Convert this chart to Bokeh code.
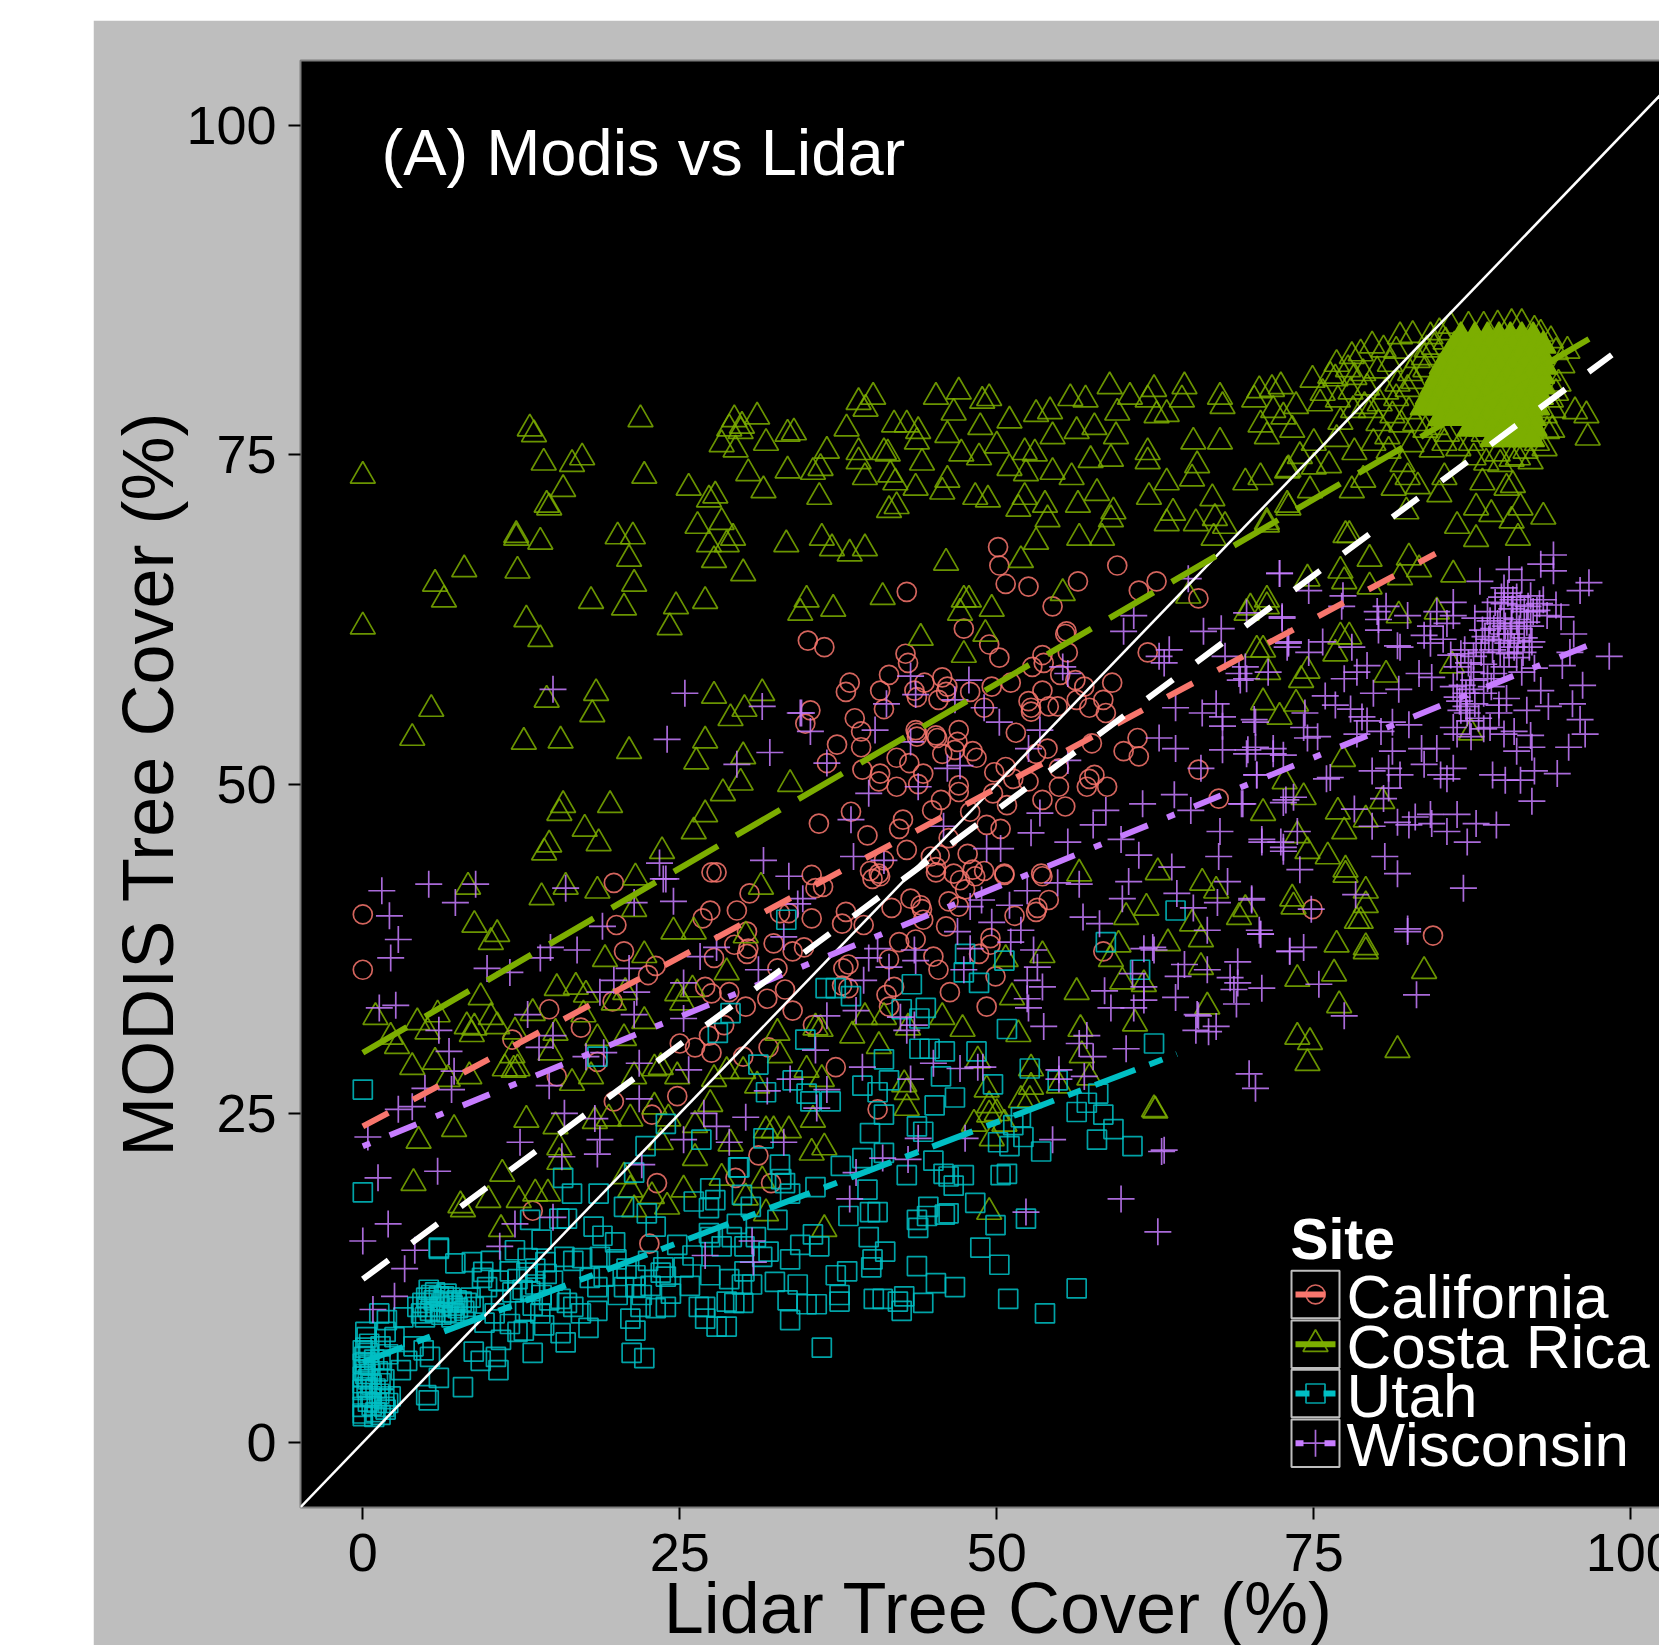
from bokeh.plotting import figure
from bokeh.embed import file_html
from bokeh.resources import INLINE
from bokeh.core.properties import value
from bokeh.models import FixedTicker

site_names = ["California", "Costa Rica", "Utah", "Wisconsin"]
site_colors = ["#F8766D", "#7CAE00", "#00BFC4", "#C77CFF"]
tick_values = [0, 25, 50, 75, 100]

california_points = [
(50.1,68),(50.2,66.6),(50.7,65.2),(52.5,65),(42.9,64.6),(59.5,66.6),(56.4,65.4),(62.6,65.4),(61.2,64.7),(65.9,64.1),
(54.4,63.5),(47.4,61.8),(55.5,61.6),(55.4,61.4),(49.4,60.6),(50.2,59.6),(55.6,60),(53.6,59.8),(61.9,60),(35.1,60.9),
(36.4,60.4),(42.8,59.9),(43,59.2),(41.5,58.3),(38.4,57.7),(38.1,57),(40.8,57.1),(44.3,57.7),(45.7,58.1),(46.1,57.4),
(46,57),(45.4,56.4),(43.5,57.1),(43.7,56.6),(47.9,57),(49.6,57.4),(51.1,57.7),(52.8,58.9),(53.7,59.2),(53.6,57.1),
(52.5,56.3),(52.7,55.8),(52.7,55.5),(54.1,55.9),(54.8,55.9),(55,58.3),(56.2,57.9),(56.9,57.4),(56.3,56.4),(57.3,55.8),
(58.4,56.4),(58.6,55.4),(59.1,57.7),(49,55.8),(41.1,55.7),(38.8,55),(35.3,55.6),(34.9,54.6),(39.3,54),(37.4,53),
(39.3,52.8),(36.6,51.6),(39.4,51.1),(40.8,50.8),(40.7,50.2),(42.1,49.8),(42.1,52),(43.1,51.6),(43.6,54.1),(43.7,53.9),
(43.7,53.6),(45.2,53.7),(45.3,53.5),(45.7,52.3),(47,54.1),(46.9,53.2),(46.7,52.6),(48.1,52.5),(48.4,52),(44.2,50.8),
(43.8,50),(51.5,53.9),(54,52.7),(57.5,53.1),(60,52.5),(61.1,53.5),(61.2,52.1),(50.7,51.3),(49.8,50.9),(51.3,50.4),
(52.5,50.2),(53.1,52.3),(54.9,51.2),(54.9,49.8),(53.6,48.8),(55.4,48.3),(57.3,50.4),(57.7,50.7),(57.1,49.8),(58.7,49.8),
(65.9,51.1),(67.5,48.9),(47,49.4),(47,49.9),(45.6,48.8),(44.9,48),(47.9,47.9),(49.7,49.3),(50.8,48.4),(49.2,46.9),
(50.3,46.6),(46.2,45.9),(47.7,44.7),(44.8,44.5),(45.5,44.6),(45.2,43.7),(48.1,43.5),(49,43.4),(50.6,43.2),(53.5,43.2),
(46.6,43.2),(38.5,47.9),(35.97,47),(39.8,46.1),(42.3,46.6),(42.6,47.3),(42.9,45),(35.4,43.1),(40,43.4),(40.7,43.2),
(41.1,44.2),(0,40.1),(0,35.9),(19.8,42.5),(20,39.3),(20.6,37.3),(23.1,36.2),(22.5,35.5),(19.7,33.5),(14.7,32.9),
(17.2,31.5),(11.8,30.6),(15.3,27.8),(18.5,28.9),(19.8,25.9),(22.8,24.9),(24.8,26.3),(13.4,17.6),(23.2,19.7),(22.6,15.1),
(29.4,20.1),(31.2,21.8),(32.2,19.7),(27.4,40.4),(26.8,39.8),(29.5,40.4),(30.5,41.7),(27.5,43.3),(27.9,43.3),(30.3,38.8),
(29.3,37.8),(30.4,37.5),(30.3,37.1),(27.7,36.8),(32.4,37.9),(32.9,40.2),(33.6,40.2),(33.9,37.3),(32.7,36),(27,34.6),
(27.5,34.1),(28.9,34.2),(30.2,33.1),(31.9,33.7),(33.3,34.4),(33.9,32.8),(28.5,31.7),(27.3,30.9),(25,30.3),(26.2,30),
(27.5,29.6),(32,30),(30,29.3),(36.3,42.2),(35.7,42.1),(40.2,42.8),(40.8,43),(45.2,43.3),(47.1,42.7),(47,40.7),
(46.2,41.1),(47.5,42),(48.3,43),(50.6,43.1),(53.6,43),(54.1,41.2),(53.2,40.6),(53.1,40.3),(51.4,40),(43.2,41.3),
(44,40.8),(44.1,40.5),(41.7,40.6),(38.1,40.3),(35.4,39.8),(37.8,39.4),(39.5,39.3),(44.2,39.7),(46,39.2),(43.6,38.2),
(42.3,38),(41.5,36.7),(38.3,36.3),(37.9,36),(45,36.9),(45.4,35.9),(48.6,37.1),(49.5,38.3),(49.5,37.8),(49.9,35.4),
(41.9,34.6),(41.3,34),(41.5,33.1),(46.3,34.2),(49.2,33.1),(38.3,34.5),(37.8,34.7),(35.5,31.7),(37.3,28.5),(40.6,25.3),
(58.4,37.3),(34.8,37.6),(74.9,40.5),(84.4,38.5),
]

costa_rica_points = [
(0,73.4),(0,61.96),(13.17,77),(13.5,76.56),(21.9,77.7),(14.27,74.4),(16.5,74.3),(17.3,74.8),(22.2,73.4),(15.8,72.4),
(14.5,71.2),(14.7,71),(12.1,68.9),(12.1,68.7),(14,68.4),(12.2,66.2),(8,66.3),(5.7,65.2),(6.4,64),(12.9,62.5),
(14,61),(18,63.9),(21.4,65.2),(20.6,63.4),(24.7,63.5),(27,63.9),(24.2,61.9),(21,67.1),(20.1,68.8),(21.3,68.8),
(25.7,72.5),(27.3,71.6),(27.8,71.9),(26.4,69.6),(28.3,69.9),(27.3,68.2),(28.7,68.2),(29.2,68.7),(27.7,67),(30,66),
(33.4,68.2),(28.3,75.8),(29.3,77.7),(28.9,77),(29.9,77.2),(29.8,76.8),(31.1,77.9),(31.8,75.9),(29.4,75.4),(30.4,73.6),
(31.6,72.3),(33.5,76.6),(33.5,73.8),(34,76.7),(5.4,55.7),(3.9,53.5),(18.4,56.9),(14.5,56.4),(18.1,55.3),(12.7,53.2),
(15.6,53.3),(21,52.5),(27.7,56.7),(31.5,56.9),(30.1,55.7),(29,55),(27,53.3),(26.3,51.7),(30,52.1),(29.8,50.1),
(28.4,49.3),(33.7,50),(34.5,63),(15.8,48.4),(15.5,47.8),(19.5,48.4),(17.5,46.6),(18.6,45.5),(14.7,45.4),(14.3,44.8),
(27,47.7),(26.1,46.4),(23.6,44.9),
(39.1,79),(40.25,79.4),(39.65,78.5),(45.2,79.4),(47,79.8),(48.85,79.1),(49.4,79.3),(46.6,78.2),(48.7,77.1),(51,77.6),
(53.1,78.1),(54.2,78.3),(55.8,79.3),(57,79.2),(58.9,80.2),(60.5,79.4),(62.4,80),(61.9,79.2),(59.5,78.2),(64.8,80.2),
(64.6,79.2),(63.4,78.1),(67.8,78.7),(67.6,79.4),(62.6,78),(38.15,77),(41.9,77.3),(42.9,77.3),(43.8,76.8),(46.1,76.5),
(43.7,76),(39.1,75.2),(39.1,74.5),(36.6,75.3),(36.1,74),(35.5,73.7),(36,71.8),(41.1,75.2),(41.4,75.1),(39.6,73.3),
(41.6,73.5),(42,72.9),(43.6,72.5),(44.1,74.4),(45.7,72.2),(46.1,73.1),(42.1,71.1),(41.5,70.8),(47.2,75.1),(48.6,74.8),
(51,74),(50,75.7),(52.2,75.2),(53,75.1),(54.4,76.4),(56.3,76.8),(57.7,77.1),(59.4,76.4),(57.4,74.6),(55.9,73.3),
(54.4,73.7),(52.3,73.6),(59,74.7),(61.9,74.5),(61.9,75.2),(65.4,73.2),(65.8,74.2),(67.6,76),(65.5,76),(63.4,72.9),
(62,71.8),(57.9,72.1),(52.2,71.8),(48.3,71.8),(49.3,71.6),(51.7,70.9),(53.8,71.2),(56.4,71.2),(54,70.1),(59.2,70.7),
(59,70.1),(63.9,70.6),(63.4,69.8),(67,71.7),(65.7,69.8),(67.2,70.2),(68,69.6),(67.1,68.7),(69.6,72.9),(70.8,73.3),
(72.9,73.8),(72.9,71.2),(71.3,69.9),(56.5,68.7),(58.3,68.7),(53.1,68.4),(51.9,67),(36.2,68.7),(37,67.9),(38.4,67.5),
(39.6,67.9),(46,66.8),(55.2,64.5),(41,64.2),(47.4,64),(47.8,64),(49.6,63.3),(47.1,63),(35,64),(37.1,63.3),
(49.1,61.4),(44,61.1),(47.4,59.8),(65.1,64.3),(69.7,63),(71.3,64),
(8.3,42.2),(14.1,41.4),(16,42.2),(18.5,41.9),(21.5,42.9),(21.4,40.5),(8.8,39.3),(10.6,38.6),(10.1,38),(19.1,36.7),
(22.2,37),(24.5,38.8),(26.1,38.8),(28.7,35.7),(31.4,42.2),(30.2,38.5),(1,32.3),(2.2,30.8),(2.7,30.1),(4.3,31.9),
(5.9,32.5),(5.1,31.2),(9.3,33.8),(3.9,28.5),(5.7,28.9),(6.7,27.6),(8.4,27.8),(8.6,31),(8.2,31.6),(8.8,31.5),
(10.1,32.3),(10.6,31.6),(12,31.2),(11.8,29.4),(11.9,28.3),(11.2,28.4),(12.2,28.4),(15.3,34.5),(16.8,34.6),(13.4,32.6),
(17.6,34),(15.2,31.1),(14.8,29.6),(16.5,27.3),(18,27.8),(18.5,30.7),(17.4,32.5),(19.8,33.4),(20.7,34.2),(20.6,30.7),
(21.4,27.8),(22.2,32),(23,28.4),(23.5,28.5),(24.8,27.8),(25.2,33.4),(24.8,34.1),(26,34.4),(27.7,27.6),(28.7,28.2),
(30,28.2),(32.7,31.1),(32.9,29.4),(31.1,27.1),(27.4,25.7),(23,25.5),(19.4,24.6),(18.3,24.4),(21.1,24.6),(24.1,24.6),
(26.2,24.1),(31.8,23.7),(32.4,23.7),(33.6,23.7),(7.2,23.8),(4.4,22.9),(12.9,24.5),(15.2,24),(15.5,22.4),(15.5,21.3),
(23.5,22.8),(26.2,21.6),(29,22.7),(11,20.4),(4,19.7),(20.6,20.2),(21.1,19.2),(25.3,19.2),(28.3,20.1),(31.5,19.9),
(7.7,18),(7.9,17.7),(9.9,18.4),(12.3,18.4),(13.6,18.9),(14.6,18.9),(10.9,16.2),(21.4,17.7),(22.8,18.7),(24,17.9),
(30.2,18.6),(31.8,17.4),
(56.5,43.2),(62.7,43.3),(66.2,42.5),(67.3,41.9),(61.8,40.6),(60.2,39.9),(69.1,39.9),(73.4,40.7),(65.4,39.4),(66.1,38.2),
(63.5,37.9),(59.6,37.8),(53.6,37),(50.7,36.7),(66.1,36.1),(59,36.7),(59.9,35),(61.6,34.8),(56.3,34.2),(51.2,33.8),
(66.6,33.1),(60.9,31.8),(56.6,31.4),(51.7,31),(47.3,31.4),(45.7,32.3),(73.7,30.8),(39.6,32.3),(41.1,32.3),(43,31.5),
(38.6,30.9),(40.7,30.1),(35.7,31.5),(56.7,29.4),(57.3,27.7),(48.5,29),(52.7,28.4),(52.7,27),(54.9,27.1),(49.2,26.8),
(42.7,27.2),(42.9,26.6),(42.9,25.4),(51.9,26),(52.6,26),(49.4,25.6),(49.4,24.9),(50,25),(48.2,24.2),(49.6,23.1),
(50.6,24.2),(62.5,25.2),(49.4,17.5),(36.4,16.2),(35.5,24.5),(36.4,22.4),(35.4,22),(35,28.3),(36.2,27.6),(36.1,31.4),
(81.8,84),(82.8,84.1),(84.2,84),(85.8,84.8),(91.4,85),(92.4,84.5),(80.5,83),(79.6,83.3),(78.7,82.7),(78,82.5),
(76.8,81.9),(76.3,81),(74.9,80.7),(75.5,78.9),(72.4,80.2),(71.7,80),(70.7,79.9),(70.3,79.2),(73.6,78.7),(73.3,76.9),
(71.3,76.4),(72.6,77.9),(71.8,78.4),(70.8,77.3),(77.1,77.5),(79.5,78.4),(80.8,76.4),(82.7,75.8),(77.9,79.8),(76.7,80.8),
(81.6,80.4),(82.6,81.2),(83.7,82.4),(84.3,75.4),(79.2,80.1),(76.8,76.2),(75,75.9),(73.9,74.9),(73,73.9),(75,74.1),
(76.2,74.2),(78.2,75.2),(79.7,75.9),(78.9,73.1),(78,72.3),(74.7,72.3),(73,71),(71.3,69.7),(77.5,68.9),(77.8,68.9),
(80.9,75.3),(82,74.3),(82.4,73.3),(81.3,72.5),(83.2,72.6),(84.9,72),(85.3,73.3),(82.3,70.7),(86.3,69.6),(87.8,68.6),
(91.1,68.7),(87.8,71),(89,70.5),(90.6,70),(91.3,71),(93.1,70.3),(88.3,72.9),(90.2,72.5),(90.7,72.7),(96.5,78),
(95.6,78.3),(96.6,76.3),(93.8,76.9),(94.1,79.7),(95,82.9),(87.4,75.9),(89.5,75.1),(91.1,74.8),(92.1,74.5),(93.2,75.5),
(88.4,76.6),(85.5,76.6),(74.5,65.6),(77.1,66.2),(77.4,65.4),(79.4,67.1),(79.4,65),(82.5,67.2),(83.3,66.3),(81.8,65.7),
(86,65.9),(70,63.4),(71.3,63.5),(77.8,61.2),(77.1,61.2),(81.7,62.8),(84.7,63.1),(70.5,60.2),(71,60.2),(76.7,59.9),
(74.5,58.6),(74,57.9),(71.4,58.5),(80.7,58.3),(85.9,59),(71,56.2),(72.3,55.1),(73.6,56.1),(87.4,53.9),(77.3,51.9),
(72.7,50.2),(74.2,49),(76.9,47.9),(80.4,48.7),(71,47.8),(79.1,47.3),(77.4,46.4),(73.7,46.1),(74.5,44.9),(76.1,44.5),
(77.5,43.5),(77.5,43.1),(79.1,41.9),(73.3,41.3),(78.4,39.6),(76.8,37.8),(79.1,37.3),(69.6,40.5),(83.7,35.8),(81.6,29.8),
(62.4,25.3),(74.5,28.8),(74.7,30.4),(79.1,37.6),(77,33.2),(73.7,35.2),(76.6,35.6),(78.7,39.6),(79.1,40.8),
(84.9,84.3),(85.4,83.6),(84.5,83.2),(83.9,83),(83.2,82.2),(83.8,81.5),(82.9,80.6),(82.4,80),(81.5,79.3),(80.7,79.8),
(80.2,78.9),(81.2,78),(80.1,77.4),(81.9,77.3),(82.5,78.3),(83,77.4),(83.8,76.9),(84.6,77.1),(85.3,75.9),(86.4,75.5),
(87.6,74.8),(88.6,74.4),(89.7,74.3),(90.6,74.7),(91.7,75.3),(92.6,75.9),(93.4,76.8),(93.9,78.4),(94.3,80.4),(94.6,81.8),
(94.1,82.8),(93.7,83.7),(92.9,84.2),(90.6,85),(89.5,84.9),(88.4,84.8),(87.2,84.8),(93.5,81.2),(93.7,79.2),(93.2,78),
(78.9,81.2),(78.2,80.9),(77.7,81.5),(80,81.4),(81,81.9),(81.5,82.9),(79,78.7),(78.1,78.4),(76.9,79.2),(75.7,79.7),
]

costa_rica_dense_points = [
(86.6,84),(87.7,84),(88.7,84),(89.6,84),(90.5,84),(91.4,84),(92.3,84),
(86.1,83.3),(87,83.3),(87.9,83.3),(88.9,83.3),(89.8,83.3),(90.7,83.3),(91.6,83.3),(92.5,83.3),(93.1,83.3),
(85.6,82.5),(86.5,82.5),(87.5,82.5),(88.4,82.5),(89.3,82.5),(90.2,82.5),(91.2,82.5),(92.1,82.5),(93,82.5),
(85.1,81.7),(86,81.7),(86.9,81.7),(87.9,81.7),(88.8,81.7),(89.7,81.7),(90.7,81.7),(91.6,81.7),(92.5,81.7),(93.2,81.7),
(84.8,81),(85.7,81),(86.6,81),(87.5,81),(88.4,81),(89.3,81),(90.3,81),(91.2,81),(92.1,81),(93,81),
(84.4,80.2),(85.3,80.2),(86.2,80.2),(87.1,80.2),(88,80.2),(88.9,80.2),(89.8,80.2),(90.7,80.2),(91.6,80.2),(92.5,80.2),(93,80.2),
(84,79.4),(84.9,79.4),(85.8,79.4),(86.7,79.4),(87.6,79.4),(88.6,79.4),(89.5,79.4),(90.4,79.4),(91.3,79.4),(92.2,79.4),(92.9,79.4),
(83.6,78.6),(84.5,78.6),(85.4,78.6),(86.3,78.6),(87.2,78.6),(88.2,78.6),(89.1,78.6),(90,78.6),(90.9,78.6),(91.8,78.6),(92.6,78.6),
(85,77.8),(85.9,77.8),(86.9,77.8),(87.8,77.8),(88.7,77.8),(89.6,77.8),(90.5,77.8),(91.4,77.8),(92.3,77.8),
(87.3,77),(88.2,77),(89.1,77),(90,77),(90.9,77),(91.8,77),(92.4,77),
(89.1,76.2),(90,76.2),(90.8,76.2),(91.6,76.2),(92.2,76.2),
]

utah_points = [
(62.4,30.3),(58.6,38),(64.1,40.4),(61.3,35.9),(50.6,36.6),(47.5,37.1),(47.4,35.7),(48.6,34.9),(43.3,34.8),(50.8,31.4),
(36.5,34.5),(37.3,34.5),(38.5,33.9),(42.5,32.9),(44.4,33),(43.9,32.2),(43.9,29.9),(44.7,29.9),(45.9,29.7),(48.4,29.7),
(41.1,29.1),(39.4,27.1),(40.6,26.6),(41.5,27.5),(45.6,27.8),(46.7,26.2),(45.1,25.6),(49.7,27.2),(52.6,28.4),(54.8,27.5),
(58,26.5),(57.1,25.8),(56.3,25.1),(58.4,24.9),(51.9,24.7),(51.3,24.1),(59.2,23.8),(57.9,23),(60.7,22.5),(52.1,23.2),
(50.1,22.8),(51,22.5),(53.5,22.1),(41.1,24.9),(36.9,25.9),(35.3,25.9),(35,26.5),(34.9,30.6),(40,23.5),(43.7,24),
(44.2,23.6),(41.1,22),(39.4,21.6),(37.7,21),(45,21.4),(42.9,20.3),(45.8,20.4),(46.2,20.2),(47.4,20.3),(46.6,19.5),
(50.3,20.3),(50.8,20.4),(39.8,19.2),(35.7,19.4),(48.3,18.2),(38.3,17.2),(40,17.5),(40.6,17.5),(43.7,16.9),(44.6,17.9),
(44.5,17.2),(43.8,16.3),(45.9,17.3),(46.2,17.4),(49.9,16.5),(52.3,17),(35.5,15.8),(36,14.9),(39.9,15.6),(41.2,14.5),
(40.2,13.9),(40.1,13.3),(37.3,12.7),(38.2,13),(43.7,13.4),(45.2,12.1),(46.7,11.8),(48.7,14.8),(50.2,13.5),(40.3,10.9),
(41,10.9),(37.6,11.2),(37.6,10.7),(35.8,10.5),(35,10.5),(42.7,11.1),(42.2,10.7),(42.5,10),(44.2,10.6),(50.9,10.9),
(56.3,11.7),(53.8,9.8),(36.2,7.2),
(0,19),(6,14.7),(7.3,13.6),(8.6,13.7),(5.2,11.6),(9.5,12.96),(9.4,12.5),(10.1,13.8),(12,14.6),(13.2,16.9),
(14.1,15.4),(15.8,20.1),(16.5,18.9),(18.6,18.9),(15.5,17),(16.1,17),(18.2,16.4),(18.9,15.7),(19.9,15.2),(20.6,17.9),
(23.1,16.4),(21.4,20.5),(22.4,17.4),(26.1,18.3),(27.4,19.3),(27.8,18.4),(27.3,17.8),(29.6,20.9),(29.9,18.8),(30.6,17.9),
(29.1,15.6),(27.4,15.6),(30.1,14.9),(28.3,14.9),(25.3,13.3),(23.7,13.3),(23.9,12.6),(27.4,12.7),(28.9,12.4),(30.1,13),
(25.8,11.9),(26.5,10.3),(27,9.4),(29.3,10.6),(28.7,8.8),(30,10.6),(23.9,10.3),(23.1,10.2),(21.9,10.3),(21.5,11.8),
(21.5,8.5),(21.2,6.8),(22.2,6.4),(24.3,11.3),(20.1,11.2),(18.5,10),(17.8,8.7),(14.3,8.9),(15.6,8.3),(16,7.6),
(13.4,6.8),(12.8,10),(12.2,8.4),(10.9,7.8),(10.5,6.5),(9.3,6.2),(10.7,5.5),(8.75,6.9),(7.9,4.2),(6,4.9),
(5,3.6),(5.2,3.2),(5.3,6.5),(3,5.5),(2.2,3.5),(1.7,2.7),(0.3,8),(0.5,7.5),(0.1,6.5),(0.1,5.5),
(0,4.5),(0,3.5),(0,2.2),(0.9,1.95),(1.1,3),(0.3,4.2),(1.4,7.3),(2.5,8),(3.2,9.5),(1.9,9.3),
(1.3,9.8),(4.3,10.3),(5.1,10.3),(6.1,10.3),(6.8,10.6),(7.4,10.8),(6.4,11.1),(5.6,10.8),(7.2,9.8),(8,10),
(8.75,10.3),(9.8,11.8),(10.7,12.3),(10.9,10.8),(12.7,8.5),(11.6,9),(14,9.8),(15,12.3),(14.5,12.8),(16.6,13.8),
(15.9,14.1),(18.7,14.1),(17.3,14),(18.5,11.8),(16.6,10.3),(16.1,10.6),(17.2,9.8),(15.6,10.9),(4.8,7),(4,7.3),
(3.5,6.2),(1.8,8.4),(0.2,8.4),(0,7),(0.6,5.2),(1.4,4.5),(1.7,3.3),(0.6,3.5),(0,2.7),(0,2),
(0,5),(0,4),(0,6),(21.1,9.4),(22.7,11.9),(23.5,12.9),
(0,26.8),(6,14.8),(23.9,24.2),(26.7,23),(22.3,22.5),(31.6,23.1),(29.7,20.9),(32.9,21.1),(28,31.1),(29,32.6),
(31.2,28.7),(31.8,26.6),(33.4,39.7),(33.9,27.5),(18.5,29.3),(33,20),(33.3,19.7),(33.7,18.9),(32.7,16.9),(29.5,16.6),
(27.3,15.9),(29.9,12),(28.7,10.7),(27.9,8.8),(33.7,9.3),(33.5,10.8),(30.7,12),(31.5,14.1),(33.7,13.9),(27,10.3),
(31,15.6),(32,14.5),(32.5,12.2),(34.3,12),(34.5,15),(26,14.2),(24.8,15),(22.5,13.8),(20.8,13.2),(20,13.9),
(19,12.6),(17.9,12.5),(13.2,11.5),(13.6,12),(12.6,11.6),(12.2,12.4),(11.6,13),(10.4,9.8),(9.6,9.1),(13,14),
(4.7,10.6),(5,11),(5.4,11.2),(5.7,11.4),(6,11.1),(6.3,10.7),(6.6,11.3),(6.9,11),(7.1,10.4),(7.5,10.2),
(7.8,10.7),(5.3,10),(5.7,9.9),(6.2,9.7),(6.6,9.9),(7,9.5),(4.6,9.8),(4.9,9.5),(8.2,10.6),(8.5,11),
(0.2,7.2),(0.4,6.8),(0.2,6.1),(0.5,5.9),(0.2,5.2),(0.4,4.8),(0.7,4.4),(1,4.1),(1.3,3.7),(0.4,3.1),
(0.7,2.8),(1,2.3),(1.4,2.1),(1.8,2.5),(2,3),(1.2,5.4),(1.7,4.8),(0.9,6.3),(1.4,6.3),(2,6.7),
(13.4,10.4),(14.1,11.2),(14.7,10.8),(11.8,11.4),(12.9,12.9),(13.6,13.2),(14.4,13.7),(20.6,11.8),(21.5,12.7),(22,11.2),
]

wisconsin_points = [
(72.3,66),(74.6,64.7),(72.5,62.6),(77.3,64.3),(80.1,62.5),(93.9,67.4),(92.9,66.7),(93.9,66.2),(96.7,65.3),(96,64.7),
(88.1,65.4),(90.4,66.3),(91.4,65.5),(90,64.9),(92.1,64.3),(91,64.2),(93.1,64),(94.1,63.6),(90,63.7),(90.6,63.3),
(91.6,63.1),(92.6,63.2),(93.4,62.8),(94.5,62.7),(88.7,63.1),(87.7,62.6),(86,63.8),(86,62.8),(84.7,63.1),(89.7,62.6),
(91,62.5),(92.1,62),(89.2,61.8),(88.3,61.7),(90.5,61.4),(91.6,61.1),(92.2,60.8),(90.3,60.7),(90.8,60.4),(88.8,61),
(87.8,60.7),(95.5,61.4),(95.2,60),(94.6,59),(98.3,59.7),(96.2,57.5),(95.4,56.1),(96,54.9),(96.4,53.8),(95.1,52.8),
(94.2,50.8),(92.2,48.7),(92.4,51),(91.3,50.3),(90.1,50.3),(89.1,50.7),(92.2,52.8),(91,52.5),(92.1,53.7),(90,53.8),
(90.8,54),(93.5,55.9),(92.9,57.1),(91.8,55.6),(90.2,56.5),(89.6,56),(89.6,55.4),(88.9,54.3),(88.4,54.2),(92.4,58.8),
(91.4,58.5),(90,58.9),(89.2,58.4),(87.6,57.9),(87.4,58.5),(86.6,59.9),(85.8,59.8),(86.3,58.9),(86,57.4),(86.3,56.6),
(86.6,55.6),(87.1,55.4),(86,54.3),(86.3,53.8),(87.4,53.6),(87.7,56.1),(88.4,56.9),(84.2,62),(84.2,60.7),(83.7,61.3),
(81.8,60.4),(81.6,60.5),(82.4,62.8),(80,63.1),(80.1,61.7),(80.7,63.5),(78,60.4),(77.2,63.5),(73,60.8),(72.9,60.4),
(74.6,60),(75.7,60.8),(79.2,59),(78.4,58.5),(77.4,58),(79.7,56.9),(81.7,57.2),(75.9,56.7),(76.7,56),(77.9,55.7),
(78.8,55.1),(79.2,54.8),(81.2,54.7),(82.5,54.5),(83.3,58.4),(84.3,58.1),(74.3,55.4),(74.2,54.3),(74.5,53.5),(75.3,53.6),
(78.4,53.8),(80.3,54),(81.2,52.5),(83.5,52.7),(84.7,52.7),(83.7,51.5),(79.6,51),(80.9,51.2),(81.8,50.7),(85,50.7),
(85.5,50.4),(86,51.2),(76.3,50.5),(76,50.4),(80.9,49.7),(80.5,48.9),(70.5,50.7),(72.6,48.6),(73.4,49),(69.3,48.5),
(78.2,48.1),(83,47.5),(84.2,47.7),(86.3,47.7),(87.8,47),(89.4,46.9),(85.5,46.4),(87.1,45.6),(84.3,47),(82.5,46.9),
(81.6,47.1),(79.6,46.8),(70.9,45.6),(73.7,46.4),(72.6,44.9),(72.4,45.6),(80.6,44.5),(81.6,43.2),(86.8,42.1),(73.9,43.5),
(78.3,41.6),(70.1,41.2),(74.8,40.5),(82.4,38.8),(70.8,38.6),(74.2,37.6),(73.1,37.3),(70.4,52.8),(69.7,52.3),(71.8,52.7),
(72.6,52.2),(70.4,54.7),(69.6,58.9),(71.4,58.5),(69.7,58),
(56.5,42.4),(60.4,42.6),(59.9,41.3),(64.2,41.7),(65.5,40.6),(67.4,41),(68.2,42.6),(70.1,41.3),(56.8,39.9),(58.1,39.4),
(66.6,38.9),(70.8,38.6),(73.1,37.3),(61.6,37.5),(62.3,37.6),(62.4,37.4),(64.8,36.3),(66.6,35.9),(64.3,35.4),(68.4,35.3),
(69,36.5),(69,34.9),(70.9,34.5),(68.9,33.3),(64.1,33.8),(61.6,33.6),(61.6,34.6),(60.7,35.6),(59,33),(58.5,34.3),
(60.8,33),(65.8,32.5),(65.7,31.3),(67.3,31.6),(57.1,30.9),(56.5,30.3),(60.2,29.9),(57.6,29.3),(56.9,27.8),(54.9,28.3),
(54.9,27.6),(69.9,28),(70.4,26.9),(54.4,23),(63,22.1),(59.8,18.5),(62.7,16),(52.3,17.5),(38.4,18.5),(38.9,20.5),
(47.5,23.1),(43,21.5),(43.8,23.1),(41,21.6),(45,28.8),(48.5,28.5),(47.1,28.4),(48.9,28.5),(39.4,28.5),(43.2,27.6),
(35.8,25.4),(36.6,26.8),(35.7,29.8),(36.6,32.4),(38.9,32.8),(42.9,31.3),(42.4,32.3),(43.5,31.7),(43.6,36.6),(41.5,36.1),
(39.9,36.8),(39.5,35.1),(47.9,37.5),(47.4,35.9),(52.4,35.1),(53.2,36.1),(53.6,34.6),(52.4,33.7),(52.5,33),(53.7,31.6),
(51.1,38),(51.9,38.9),(52.9,37.4),(49.6,39.5),(47.9,40.7),(48.8,41.2),(52.4,41.9),(54.8,42.5),(51,40.8),(46.9,38.8),
(43.5,37.4),(40.6,37.5),(34.7,41.3),
(1.5,41.9),(5.2,42.4),(8.9,42.4),(16,42.1),(23.7,42.8),(7.3,41),(2.1,40),(2.8,38.2),(2.2,36.8),(14,36.8),
(14.8,37.6),(16.9,37.4),(9.8,36),(11.6,35.7),(1.3,33),(2.6,33.2),(6,31.3),(6.8,29.7),(7.2,28.2),(7,26.8),
(4.9,26.9),(2.8,25.3),(3.9,25.5),(0.4,23.2),(13,32.5),(15,30.9),(13.9,30),(14.7,27.1),(17.6,29.3),(19,29.6),
(21.8,28.8),(21.8,26.1),(15.9,25),(18.3,24.6),(18.7,23),(18.5,21.9),(12.4,22.8),(15.7,21.7),(22,21.1),(1.2,20.1),
(5.9,20.6),(2,16.6),(0,15.3),(4.1,14.6),(3.3,13.2),(2.5,11.1),(0.8,10.1),(10.8,14.9),(12,16.6),(15,17.1),
(27,14.2),(30.7,15.3),(30.8,13.7),(25.3,23),(26.9,25),(30.2,24.7),(27.9,24),(28.9,22.8),(33.2,22.8),(33.7,27.6),
(31.9,26.7),(25.7,28.3),(25.3,32.2),(21.6,34.2),(21,36),(18.7,34.2),(19.8,35.1),(21.4,32.5),(18.9,39.2),(21.4,41),
(24.5,41.1),(26.6,36.9),(27.9,37.6),(31.2,35.9),(25.3,34.9),(33.2,38.4),(34.3,40.9),
(72.3,66),(65.1,65.6),(60.8,62.8),(60,61.6),(66.3,61.6),(67.7,61.8),(72.5,62.7),(69.7,63),(63.6,60.2),(62.8,59.7),
(63.2,59.2),(68,59.7),(69.1,58.4),(69.2,57.9),(73,60.7),(64.1,55.8),(66.2,55.4),(67.8,54.4),(70.3,54.9),(67.8,55.1),
(67.3,56.1),(62.8,53.5),(64.1,52.7),(67.8,52.6),(69.8,52.6),(71.8,52.3),(66.1,51.2),(64,49.2),(65.3,48),(61.5,48.5),
(67.6,46.4),(69.4,48.5),(70.5,50.7),(72.8,48.8),(70.9,45.8),(72.6,45.2),(59.8,45.8),(57.6,46.9),(61.2,44.6),(58.6,48),
(55.6,45.6),(63.8,43.7),(67.5,44.5),(53.4,54.1),(52.5,52.7),(55.6,51.8),(50.2,54.7),(49,55.8),(47.8,57.9),(46.7,56.4),
(43.6,56.8),(43.2,58.2),(41.3,56.1),(40.4,54.1),(35.3,54),(36.6,51.6),(43.2,53.2),(43.8,49.8),(46.1,51.2),(47.1,51.4),
(38.5,47.3),(39.9,49.3),(38.7,44.5),(41.1,44.2),(45.8,46.8),(50.3,45.1),(49.2,45.1),(52.7,46.3),(53.4,47.8),(55.2,58.9),
(55.6,58.4),(34.6,55.4),
(15,57.2),(25.4,56.9),(24,53.4),(31.5,55.9),(32.1,52.4),(29.5,51.5),(31.6,44.2),(23.4,44),(23.9,42.8),(33.6,43),
(34.5,55.4),(83.1,34),(82.4,39),(77.4,32.4),(75.4,34.8),(70.7,38.9),(68.7,34.4),(65.9,32.4),(66.7,31.2),(63.2,22.2),
(89.3,63.8),(89.8,64.2),(90.3,64.5),(90.7,64),(91.3,63.6),(91.9,63.5),(92.3,63.1),(92.8,63.7),(89.5,62.2),(90.1,62),
(90.6,62.2),(91.2,61.8),(91.8,62.3),(88.9,62.4),(88.5,61.2),(89.6,60.9),(90,61.4),(91.1,60.9),(92,60.4),(89.1,60.2),
(89.7,60),(90.4,59.9),(91,59.6),(91.5,60),(88.2,60),(87.6,59.7),(86.9,60.2),(87.2,59.2),(88.4,59.1),(87,56.9),
(86.7,57.5),(87.3,57.2),(86.5,56.3),(87,55.9),(87.3,54.8),(88,55),(89,57.4),(88.7,58),(85.2,61),(85.5,62.2),
]

identity_line = [-5, 105]
california_fit_x, california_fit_y = [0, 84.6], [24.0, 67.5]
costa_rica_fit_x, costa_rica_fit_y = [0, 96.7], [29.6, 83.8]
utah_fit_x, utah_fit_y = [0, 64.2], [6.1, 29.5]
wisconsin_fit_x, wisconsin_fit_y = [0, 97.3], [22.5, 60.8]
overall_fit_x, overall_fit_y = [0, 98.5], [12.4, 82.6]

# geometry of the frame in page pixels, used to place the key inside the panel
PX0, PX_PER_X = 362.3, 12.68
PY0, PX_PER_Y = 1442.3, 13.166
def dx(px): return (px - PX0) / PX_PER_X
def dy(py): return (PY0 - py) / PX_PER_Y

FONT = "Liberation Sans"
# the panel runs on past the right edge of the page, as in the reference
p = figure(width=1566, height=1625, frame_width=1396, frame_height=1447,
           output_backend="svg", toolbar_location=None,
           x_range=(dx(300), dx(1696)), y_range=(dy(1507.3), dy(60.5)),
           background_fill_color="black", border_fill_color="#bebebe",
           min_border_left=207, min_border_right=0, min_border_top=40, min_border_bottom=138,
           outline_line_color="#7f7f7f", outline_line_width=2,
           x_axis_label="Lidar Tree Cover (%)", y_axis_label="MODIS Tree Cover (%)")
p.margin = (20, 0, 0, 93)
p.grid.visible = False
for ax in (p.xaxis[0], p.yaxis[0]):
    ax.ticker = FixedTicker(ticks=tick_values)
    ax.axis_line_color = None
    ax.minor_tick_line_color = None
    ax.major_tick_line_color = "black"
    ax.major_tick_line_width = 2
    ax.major_tick_out = 12
    ax.major_tick_in = 0
    ax.major_label_text_font = FONT
    ax.major_label_text_font_size = "54px"
    ax.major_label_text_color = "black"
    ax.axis_label_text_font = FONT
    ax.axis_label_text_font_size = "72px"
    ax.axis_label_text_font_style = "normal"
    ax.axis_label_text_color = "black"
p.xaxis[0].major_label_standoff = 14
p.xaxis[0].axis_label_standoff = -6
p.yaxis[0].major_label_standoff = 12
p.yaxis[0].axis_label_standoff = -5

def xs(points): return [a for a, b in points]
def ys(points): return [b for a, b in points]

STROKE = dict(line_width=1.7, line_alpha=0.85, fill_color=None)
p.scatter(xs(california_points), ys(california_points), marker="circle", size=19, line_color=site_colors[0], **STROKE)
p.scatter(xs(costa_rica_points), ys(costa_rica_points), marker="triangle", size=25, line_color=site_colors[1], **STROKE)
p.scatter(xs(costa_rica_dense_points), ys(costa_rica_dense_points), marker="triangle", size=25,
          line_color=site_colors[1], fill_color=site_colors[1], line_width=1.7)
p.scatter(xs(utah_points), ys(utah_points), marker="square", size=19, line_color=site_colors[2], **STROKE)
p.scatter(xs(wisconsin_points), ys(wisconsin_points), marker="cross", size=27, line_color=site_colors[3], **STROKE)

p.line(identity_line, identity_line, line_color="white", line_width=2.5)
p.line(california_fit_x, california_fit_y, line_color=site_colors[0], line_width=6, line_dash="29 28")
p.line(costa_rica_fit_x, costa_rica_fit_y, line_color=site_colors[1], line_width=6, line_dash="51 21")
p.line(utah_fit_x, utah_fit_y, line_color=site_colors[2], line_width=6, line_dash="43 15 14 15")
p.line(wisconsin_fit_x, wisconsin_fit_y, line_color=site_colors[3], line_width=6, line_dash="8 21 29 21")
p.line(overall_fit_x, overall_fit_y, line_color="white", line_width=6, line_dash="32 29")

# key
key_rows = [1294.3, 1344, 1393.3, 1443]
key_markers = ["circle", "triangle", "square", "cross"]
key_sizes = [19, 25, 19, 27]
key_dashes = ["30 10", "solid", "14 14 12", "8 21 11"]
key_baselines = [1316.7, 1366.7, 1415.5, 1465]
TEXT_SHIFT = 0.33   # the renderer puts an alphabetic baseline this many font sizes low
for name, color, row, marker, size, dash, base in zip(site_names, site_colors, key_rows, key_markers, key_sizes, key_dashes, key_baselines):
    p.rect([dx(1315)], [dy(row)], width=48 / PX_PER_X, height=47.5 / PX_PER_Y, fill_color="black",
           line_color="#bebebe", line_width=2)
    p.line([dx(1295), dx(1335)], [dy(row), dy(row)], line_color=color, line_width=6, line_dash=dash)
    p.scatter([dx(1315)], [dy(row)], marker=marker, size=size, line_color=color, **STROKE)
    p.text([dx(1346)], [dy(base - TEXT_SHIFT * 62)], text=[name], text_font=value(FONT), text_font_size="62px",
           text_color="white", text_baseline="alphabetic", text_align="left")
p.text([dx(1290)], [dy(1258 - TEXT_SHIFT * 57)], text=["Site"], text_font=value(FONT), text_font_size="57px", text_font_style="bold",
       text_color="white", text_baseline="alphabetic", text_align="left")
p.text([dx(381)], [dy(173.5 - TEXT_SHIFT * 65)], text=["(A) Modis vs Lidar"], text_font=value(FONT), text_font_size="65px",
       text_color="white", text_baseline="alphabetic", text_align="left")

open("out.html", "w").write(file_html(p, INLINE))
